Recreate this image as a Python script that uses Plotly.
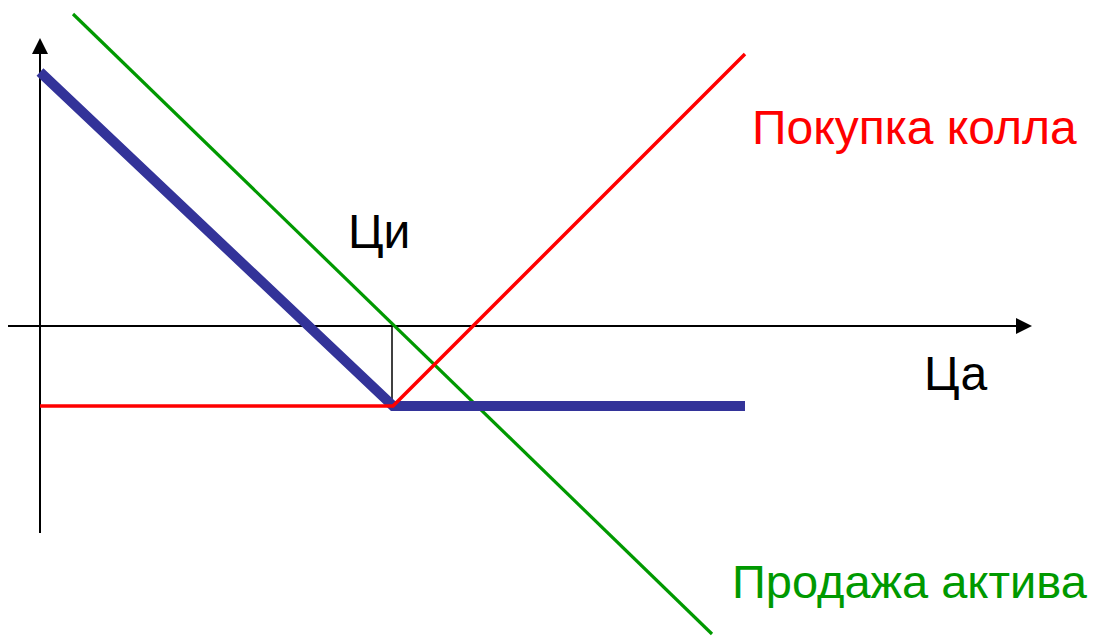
import plotly.graph_objects as go

# Data (origin at axes crossing; y up)
price_pts = [0, 353, 705]
call_payoff = [-80, -80, 272]          # Покупка колла
combined = [254, -80, -80]             # синяя линия
asset_x = [33, 672]
asset_y = [312, -308]                  # Продажа актива
strike = 353
premium = -80

labels = {
    "call": "Покупка колла",
    "asset": "Продажа актива",
    "yaxis": "Ци",
    "xaxis": "Ца",
}

fig = go.Figure()
# axes lines
fig.add_trace(go.Scatter(x=[-32, 985], y=[0, 0], mode="lines",
                         line=dict(color="black", width=2), hoverinfo="skip"))
fig.add_trace(go.Scatter(x=[0, 0], y=[-207, 280], mode="lines",
                         line=dict(color="black", width=2), hoverinfo="skip"))
fig.add_trace(go.Scatter(x=[strike - 1, strike - 1], y=[0, premium], mode="lines",
                         line=dict(color="black", width=1.5), hoverinfo="skip"))
fig.add_trace(go.Scatter(x=asset_x, y=asset_y, mode="lines",
                         line=dict(color="#009900", width=3.2), hoverinfo="skip"))
fig.add_trace(go.Scatter(x=price_pts, y=combined, mode="lines",
                         line=dict(color="#333399", width=10), hoverinfo="skip"))
fig.add_trace(go.Scatter(x=price_pts, y=call_payoff, mode="lines",
                         line=dict(color="#FF0000", width=3.5), hoverinfo="skip"))

# arrowheads
fig.add_annotation(x=992, y=0, ax=975, ay=0, axref="x", ayref="y", xref="x", yref="y",
                   text="", showarrow=True, arrowhead=2, arrowsize=1.6, arrowwidth=2, arrowcolor="black")
fig.add_annotation(x=0, y=288, ax=0, ay=270, axref="x", ayref="y", xref="x", yref="y",
                   text="", showarrow=True, arrowhead=2, arrowsize=1.6, arrowwidth=2, arrowcolor="black")

font = "Liberation Sans, Arial, sans-serif"
fig.add_annotation(x=710, y=199, text=labels["call"], showarrow=False, xanchor="left", yanchor="middle",
                   font=dict(family=font, size=48, color="#FF0000"))
fig.add_annotation(x=690, y=-255, text=labels["asset"], showarrow=False, xanchor="left", yanchor="middle",
                   font=dict(family=font, size=47, color="#009900"))
fig.add_annotation(x=306, y=95, text=labels["yaxis"], showarrow=False, xanchor="left", yanchor="middle",
                   font=dict(family=font, size=48, color="black"))
fig.add_annotation(x=882, y=-47, text=labels["xaxis"], showarrow=False, xanchor="left", yanchor="middle",
                   font=dict(family=font, size=48, color="black"))

fig.update_layout(width=1091, height=629, margin=dict(l=0, r=0, t=0, b=0),
                  paper_bgcolor="white", plot_bgcolor="white", showlegend=False,
                  xaxis=dict(range=[-32, 1059], visible=False, fixedrange=True),
                  yaxis=dict(range=[-311, 318], visible=False, fixedrange=True))
fig.write_html("out.html")
